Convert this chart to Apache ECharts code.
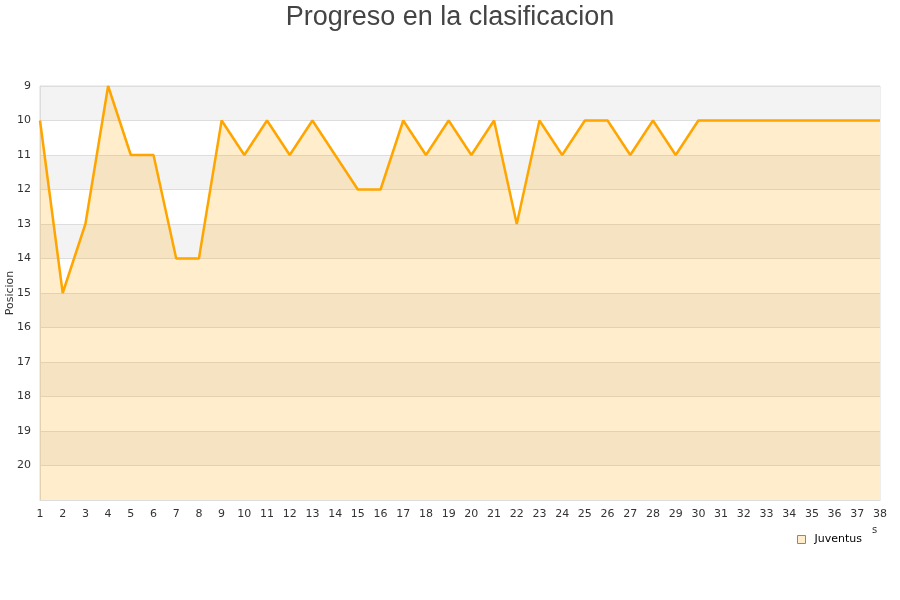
<!DOCTYPE html>
<html><head><meta charset="utf-8">
<script src="https://cdn.jsdelivr.net/npm/echarts@6/dist/echarts.min.js"></script>
<style>html,body{margin:0;padding:0;background:#fff}#c{width:900px;height:600px}</style>
</head><body><div id="c"></div>
<script>
var jornadas = ['1','2','3','4','5','6','7','8','9','10','11','12','13','14','15','16','17','18','19','20','21','22','23','24','25','26','27','28','29','30','31','32','33','34','35','36','37','38'];
var juventus = [10,15,13,9,11,11,14,14,10,11,10,11,10,11,12,12,10,11,10,11,10,13,10,11,10,10,11,10,11,10,10,10,10,10,10,10,10,10];
var chart = echarts.init(document.getElementById('c'));
chart.setOption({
  animation: false,
  title: { text: 'Progreso en la clasificacion', left: 'center', top: -1,
    textStyle: { fontFamily: 'Liberation Sans', fontSize: 27, fontWeight: 'normal', color: '#444' } },
  legend: { data: ['Juventus'], left: 792, top: 529, itemWidth: 8, itemHeight: 8, icon: 'rect', itemGap: 5,
    itemStyle: { color: '#FFEDCC', borderColor: '#888', borderWidth: 1 },
    textStyle: { fontFamily: 'DejaVu Sans', fontSize: 11, color: '#000', padding: [0,0,0,4] } },
  grid: { left: 40, right: 20, top: 86, bottom: 100, containLabel: false, outerBoundsMode: 'none',
    show: true, borderColor: '#ddd', borderWidth: 1 },
  xAxis: { type: 'category', data: jornadas, boundaryGap: false,
    axisLine: { lineStyle: { color: '#ddd' } }, axisTick: { show: false },
    axisLabel: { fontFamily: 'DejaVu Sans', fontSize: 11, color: '#333', margin: 9, interval: 0 },
    splitLine: { show: false } },
  yAxis: { type: 'value', inverse: true, min: 9, max: 21, interval: 1,
    name: 'Posicion', nameLocation: 'middle', nameGap: 24, nameMoveOverlap: false,
    nameTextStyle: { fontFamily: 'DejaVu Sans', fontSize: 11, color: '#333' },
    axisLine: { show: true, lineStyle: { color: '#ddd' } }, axisTick: { show: false },
    axisLabel: { fontFamily: 'DejaVu Sans', fontSize: 11, color: '#333', margin: 9,
      formatter: function (v) { return v === 21 ? '' : v; } },
    splitLine: { show: true, lineStyle: { color: '#ddd' } },
    splitArea: { show: true, areaStyle: { color: ['#f3f3f3', '#ffffff'] } } },
  graphic: [{ type: 'text', left: 872, top: 525, style: { text: 's', fontFamily: 'DejaVu Sans', fontSize: 10, fill: '#333' } }],
  series: [{ name: 'Juventus', type: 'line', data: juventus, showSymbol: false, symbol: 'none',
    lineStyle: { color: '#FFA500', width: 2.5 },
    itemStyle: { color: '#FFEDCC', borderColor: '#888', borderWidth: 1 },
    areaStyle: { color: 'rgba(255,165,0,0.2)', opacity: 1, origin: 'end' } }]
});
</script></body></html>
